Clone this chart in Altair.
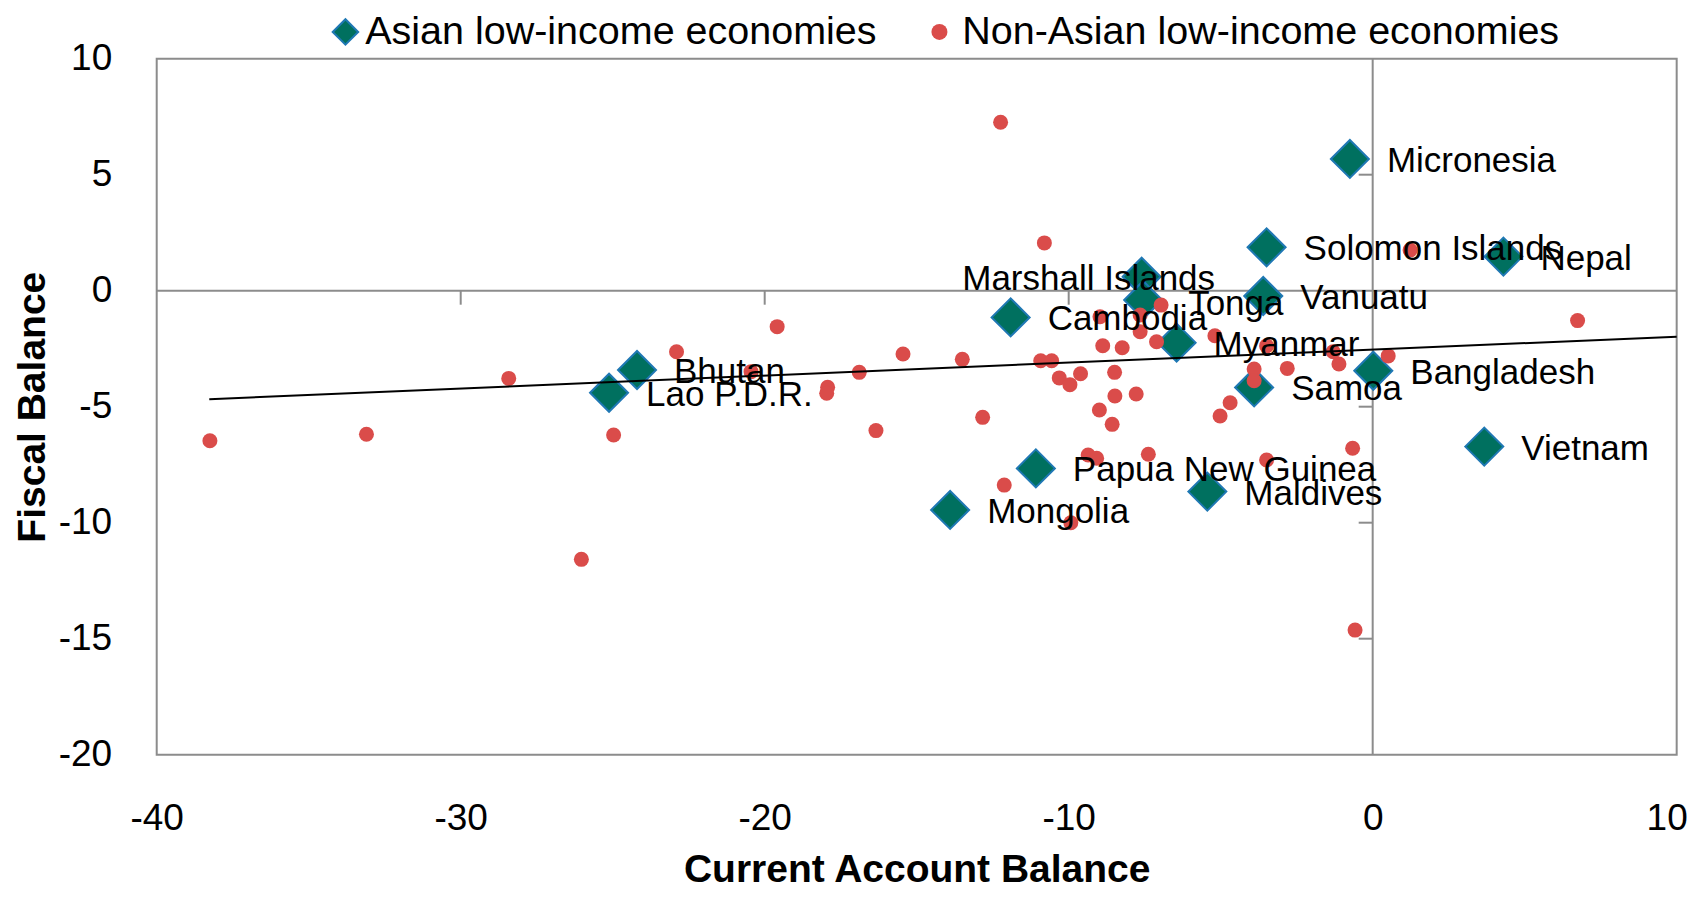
import altair as alt
import pandas as pd

ASIAN = "Asian low-income economies"
OTHER = "Non-Asian low-income economies"

asian_names = ["Micronesia", "Solomon Islands", "Nepal", "Marshall Islands", "Tonga",
               "Vanuatu", "Cambodia", "Myanmar", "Bangladesh", "Samoa", "Vietnam",
               "Papua New Guinea", "Maldives", "Mongolia", "Bhutan", "Lao P.D.R."]
asian_cab = [-0.75, -3.49, 4.30, -7.60, -7.55, -3.60, -11.91, -6.45, 0.02, -3.90, 3.67,
             -11.08, -5.44, -13.90, -24.20, -25.12]
asian_fb = [5.68, 1.87, 1.47, 0.60, -0.40, -0.23, -1.15, -2.24, -3.45, -4.17, -6.72,
            -7.66, -8.66, -9.45, -3.42, -4.40]

other_cab = [-38.25, -33.10, -28.42, -24.97, -26.03,
             -19.59, -22.90, -20.45, -17.93, -17.96, -16.89, -15.45, -13.50, -10.92, -10.56,
             -16.34, -12.83, -12.12,
             -12.24, -10.80,
             -8.97, -7.65, -6.96, -7.65, -8.88, -8.24, -7.11, -10.31, -9.96, -9.61, -8.49,
             -8.48, -7.78, -8.99, -8.57, -5.19, -3.90, -3.90, -2.81, -4.69, -5.02, -1.30,
             -1.11, 0.51, -3.49,
             -9.36, -9.08, -7.38, -3.49, -0.66, -9.93, -0.58, 1.23, 6.74]
other_fb = [-6.47, -6.19, -3.78, -6.22, -11.58,
            -1.55, -2.63, -3.49, -4.16, -4.42, -3.52, -2.73, -2.96, -3.02, -3.02,
            -6.03, -5.46, -8.38,
            7.26, 2.06,
            -1.12, -1.05, -0.62, -1.77, -2.37, -2.46, -2.20, -3.76, -4.05, -3.58, -3.52,
            -4.54, -4.45, -5.14, -5.76, -1.94, -3.38, -3.88, -3.35, -4.83, -5.40, -2.63,
            -3.16, -2.81, -2.38,
            -7.08, -7.22, -7.05, -7.30, -6.79, -10.00, -14.63, 1.75, -1.29]

trend_cab = [-38.27, 10.0]
trend_fb = [-4.68, -1.98]

x_ticks = [-40, -30, -20, -10, 0, 10]
y_ticks = [-20, -15, -10, -5, 0, 5, 10]
x_marks = [-30, -20, -10]
y_marks = [5, -5, -10, -15]

FONT = "Liberation Sans"
GRAY = "#8c8c8c"
TEAL = "#00705f"
BLUE = "#1f78b4"
RED = "#da4c4a"
LABEL_SIZE = 35

asian_df = pd.DataFrame({"name": asian_names, "cab": asian_cab, "fb": asian_fb, "group": ASIAN})
other_df = pd.DataFrame({"cab": other_cab, "fb": other_fb, "group": OTHER})
trend_df = pd.DataFrame({"cab": trend_cab, "fb": trend_fb})
xm_df = pd.DataFrame({"cab": x_marks, "fb": [0] * len(x_marks)})
ym_df = pd.DataFrame({"cab": [0] * len(y_marks), "fb": y_marks})
zero_df = pd.DataFrame({"cab": [0], "fb": [0]})

xscale = alt.Scale(domain=[-40, 10], nice=False, zero=False)
yscale = alt.Scale(domain=[-20, 10], nice=False, zero=False)

xaxis = alt.Axis(values=x_ticks, title="Current Account Balance", grid=False, ticks=False,
                 domain=False, labelFont=FONT, labelFontSize=37, labelColor="black",
                 labelPadding=46, labelFlush=False, labelOverlap=False,
                 labelExpr="'' + datum.value",
                 labelOffset={"condition": {"test": "datum.value == 10", "value": -10}, "value": 0},
                 titleFont=FONT, titleFontSize=39, titleFontWeight="bold", titleColor="black",
                 titleY=115, titleBaseline="middle")
yaxis = alt.Axis(values=y_ticks, title="Fiscal Balance", grid=False, ticks=False,
                 domain=False, labelFont=FONT, labelFontSize=37, labelColor="black",
                 labelPadding=45, labelOverlap=False,
                 labelExpr="'' + datum.value",
                 titleFont=FONT, titleFontSize=39, titleFontWeight="bold", titleColor="black",
                 titleX=-124.5, titleBaseline="middle")

X = alt.X("cab:Q", scale=xscale, axis=xaxis)
Y = alt.Y("fb:Q", scale=yscale, axis=yaxis)

vzero = alt.Chart(zero_df).mark_rule(color=GRAY, strokeWidth=2).encode(x=X)
hzero = alt.Chart(zero_df).mark_rule(color=GRAY, strokeWidth=2).encode(y=Y)

xmarks = alt.Chart(xm_df).mark_tick(orient="vertical", size=14, thickness=2, yOffset=7,
                                     color=GRAY, opacity=1).encode(x=X, y=Y)
ymarks = alt.Chart(ym_df).mark_tick(orient="horizontal", size=14, thickness=2, xOffset=-7,
                                     color=GRAY, opacity=1).encode(x=X, y=Y)

diamonds = alt.Chart(asian_df).mark_point(shape="diamond", filled=True, size=1444, stroke=BLUE,
                                          strokeWidth=2, opacity=1).encode(
    x=X, y=Y,
    fill=alt.Fill("group:N", scale=alt.Scale(domain=[ASIAN], range=[TEAL]),
                  legend=alt.Legend(title=None, orient="none", legendX=169, legendY=-46.5,
                                    direction="horizontal", symbolType="diamond",
                                    symbolSize=650, symbolStrokeColor=BLUE,
                                    symbolStrokeWidth=2, symbolOpacity=1,
                                    labelFont=FONT, labelFontSize=39.5, labelColor="black",
                                    labelOffset=0, padding=0, labelLimit=1000)))

dots = alt.Chart(other_df).mark_circle(size=225, opacity=1).encode(
    x=X, y=Y,
    color=alt.Color("group:N", scale=alt.Scale(domain=[OTHER], range=[RED]),
                    legend=alt.Legend(title=None, orient="none", legendX=763, legendY=-46.5,
                                      direction="horizontal", symbolType="circle",
                                      symbolSize=256, symbolOpacity=1,
                                      labelFont=FONT, labelFontSize=39.5, labelColor="black",
                                      labelOffset=3, padding=0, labelLimit=1000)))

trend = alt.Chart(trend_df).mark_line(color="black", strokeWidth=2).encode(x=X, y=Y)

labels_main = alt.Chart(asian_df).transform_filter(
    "datum.name != 'Marshall Islands' && datum.name != 'Tonga'"
).mark_text(align="left", baseline="middle", dx=37, dy=2, font=FONT, fontSize=LABEL_SIZE,
            color="black").encode(x=X, y=Y, text="name:N")
label_marshall = alt.Chart(asian_df).transform_filter("datum.name == 'Marshall Islands'").mark_text(
    align="center", baseline="middle", dx=-53, dy=2, font=FONT, fontSize=LABEL_SIZE, color="black"
).encode(x=X, y=Y, text="name:N")
label_tonga = alt.Chart(asian_df).transform_filter("datum.name == 'Tonga'").mark_text(
    align="left", baseline="middle", dx=45, dy=4, font=FONT, fontSize=LABEL_SIZE, color="black"
).encode(x=X, y=Y, text="name:N")

chart = alt.layer(vzero, hzero, xmarks, ymarks, diamonds, dots, trend,
                  labels_main, label_marshall, label_tonga).resolve_scale(
    fill="independent", color="independent"
).properties(
    width=1520, height=696,
    padding={"left": 148.7, "top": 50.7, "right": 11, "bottom": 135},
    autosize=alt.AutoSizeParams(type="none"),
).configure_view(stroke=GRAY, strokeWidth=2)

chart.save("out.html", embed_options={"renderer": "svg", "actions": False})
